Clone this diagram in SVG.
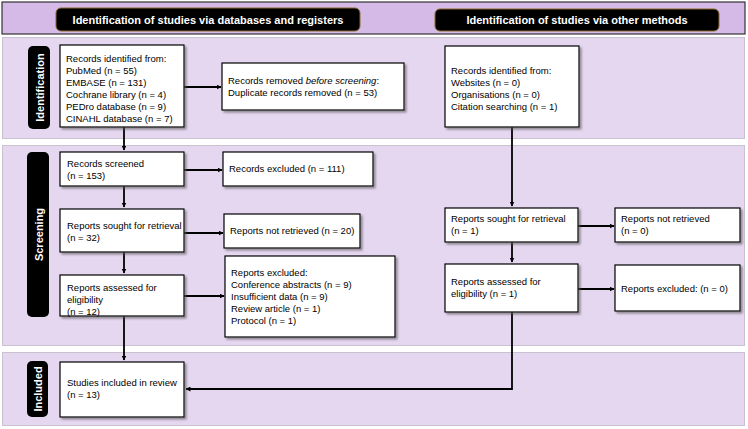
<svg xmlns="http://www.w3.org/2000/svg" width="748" height="429" viewBox="0 0 748 429">
<defs>
<marker id="ah" viewBox="0 0 10 10" refX="9" refY="5" markerWidth="5" markerHeight="5" orient="auto" markerUnits="userSpaceOnUse"><path d="M0,0 L10,5 L0,10 z" fill="#000"/></marker>
<filter id="sh" x="-10%" y="-10%" width="130%" height="130%"><feDropShadow dx="2" dy="2" stdDeviation="0.8" flood-color="#555" flood-opacity="0.6"/></filter>
</defs>
<style>
.band{fill:#e6d7f1;stroke:#c9c2d0;stroke-width:1}
.hdr{fill:#000;stroke:#8a6a2a;stroke-width:1}
.ht{font-family:"Liberation Sans",Arial,sans-serif;font-size:11px;font-weight:bold;fill:#fff}
.lab{fill:#000}
.box{fill:#fff;stroke:#000;stroke-width:1.2;filter:url(#sh)}
.t{font-family:"Liberation Sans",Arial,sans-serif;font-size:9.5px;fill:#000}
.c{fill:none;stroke:#000;stroke-width:1.8}
</style>
<rect x="2" y="2" width="743" height="32" fill="#d5bae8" stroke="#333" stroke-width="1.2"/>
<rect class="band" x="2.5" y="37.5" width="742" height="101"/>
<rect class="band" x="2.5" y="145.5" width="742" height="200"/>
<rect class="band" x="2.5" y="352.5" width="742" height="73"/>
<g id="hdr-left"><rect class="hdr" x="56" y="8" width="304" height="23" rx="5"/><text class="ht" x="208" y="23.5" text-anchor="middle">Identification of studies via databases and registers</text></g>
<g id="hdr-right"><rect class="hdr" x="435" y="9" width="284" height="22" rx="5"/><text class="ht" x="577" y="24" text-anchor="middle">Identification of studies via other methods</text></g>
<g id="lab-ident"><rect class="lab" x="28" y="46" width="22" height="83" rx="5"/><text class="ht" transform="translate(43.5,87.5) rotate(-90)" text-anchor="middle">Identification</text></g>
<g id="lab-screen"><rect class="lab" x="27" y="152" width="22" height="165" rx="5"/><text class="ht" transform="translate(42.5,234.5) rotate(-90)" text-anchor="middle">Screening</text></g>
<g id="lab-incl"><rect class="lab" x="27" y="361" width="21" height="56" rx="5"/><text class="ht" transform="translate(41.5,389) rotate(-90)" text-anchor="middle">Included</text></g>
<g id="connectors">
<path class="c" d="M124,127 V150" marker-end="url(#ah)"/>
<path class="c" d="M184,87 H221" marker-end="url(#ah)"/>
<path class="c" d="M124,186 V207" marker-end="url(#ah)"/>
<path class="c" d="M184,170 H222" marker-end="url(#ah)"/>
<path class="c" d="M124,252 V273" marker-end="url(#ah)"/>
<path class="c" d="M184,233 H223" marker-end="url(#ah)"/>
<path class="c" d="M184,296 H224" marker-end="url(#ah)"/>
<path class="c" d="M124,316 V360" marker-end="url(#ah)"/>
<path class="c" d="M512,127 V206" marker-end="url(#ah)"/>
<path class="c" d="M578,226 H614" marker-end="url(#ah)"/>
<path class="c" d="M512,242 V262" marker-end="url(#ah)"/>
<path class="c" d="M578,289 H614" marker-end="url(#ah)"/>
<path class="c" d="M512,312 V389 H186" marker-end="url(#ah)"/>
</g>
<g id="n-records-id"><rect class="box" x="60" y="45" width="124" height="82"/><text class="t" x="66" y="62">Records identified from:<tspan x="66" dy="12">PubMed (n = 55)</tspan><tspan x="66" dy="12">EMBASE (n = 131)</tspan><tspan x="66" dy="12">Cochrane library (n = 4)</tspan><tspan x="66" dy="12">PEDro database (n = 9)</tspan><tspan x="66" dy="12">CINAHL database (n = 7)</tspan></text></g>
<g id="n-removed"><rect class="box" x="222" y="63" width="182" height="47"/><text class="t" x="228" y="84">Records removed <tspan font-style="italic">before screening</tspan>:<tspan x="228" dy="12">Duplicate records removed  (n = 53)</tspan></text></g>
<g id="n-other-id"><rect class="box" x="445" y="46" width="134" height="81"/><text class="t" x="451" y="74">Records identified from:<tspan x="451" dy="12">Websites (n = 0)</tspan><tspan x="451" dy="12">Organisations (n = 0)</tspan><tspan x="451" dy="12">Citation searching (n = 1)</tspan></text></g>
<g id="n-screened"><rect class="box" x="60" y="152" width="124" height="34"/><text class="t" x="67" y="167">Records screened<tspan x="67" dy="12">(n = 153)</tspan></text></g>
<g id="n-excluded"><rect class="box" x="223" y="152" width="150" height="34"/><text class="t" x="229" y="172">Records excluded (n = 111)</text></g>
<g id="n-sought"><rect class="box" x="60" y="209" width="124" height="43"/><text class="t" x="67" y="229">Reports sought for retrieval<tspan x="67" dy="12">(n = 32)</tspan></text></g>
<g id="n-notretr"><rect class="box" x="224" y="214" width="136" height="34"/><text class="t" x="230" y="234">Reports not retrieved (n = 20)</text></g>
<g id="n-assessed"><rect class="box" x="60" y="275" width="124" height="41"/><text class="t" x="67" y="291">Reports assessed for<tspan x="67" dy="12">eligibility</tspan><tspan x="67" dy="12">(n = 12)</tspan></text></g>
<g id="n-repexcl"><rect class="box" x="225" y="256" width="170" height="81"/><text class="t" x="231" y="276">Reports excluded:<tspan x="231" dy="12">Conference abstracts (n = 9)</tspan><tspan x="231" dy="12">Insufficient data (n = 9)</tspan><tspan x="231" dy="12">Review article (n = 1)</tspan><tspan x="231" dy="12">Protocol (n = 1)</tspan></text></g>
<g id="n-sought2"><rect class="box" x="445" y="208" width="133" height="34"/><text class="t" x="451" y="222">Reports sought for retrieval<tspan x="451" dy="12">(n = 1)</tspan></text></g>
<g id="n-notretr2"><rect class="box" x="615" y="208" width="125" height="34"/><text class="t" x="621" y="222">Reports not retrieved<tspan x="621" dy="12">(n = 0)</tspan></text></g>
<g id="n-assessed2"><rect class="box" x="445" y="264" width="133" height="48"/><text class="t" x="451" y="285">Reports assessed for<tspan x="451" dy="12">eligibility (n = 1)</tspan></text></g>
<g id="n-repexcl2"><rect class="box" x="615" y="265" width="125" height="46"/><text class="t" x="621" y="292">Reports excluded: (n = 0)</text></g>
<g id="n-included"><rect class="box" x="60" y="362" width="124" height="55"/><text class="t" x="67" y="386">Studies included in review<tspan x="67" dy="12">(n = 13)</tspan></text></g>
</svg>
